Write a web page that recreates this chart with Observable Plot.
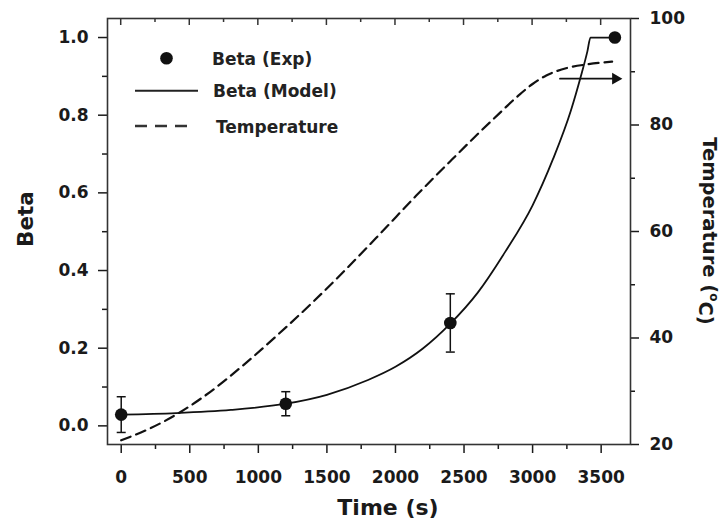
<!DOCTYPE html>
<html>
<head>
<meta charset="utf-8">
<script src="https://cdn.jsdelivr.net/npm/d3@7"></script>
<script src="https://cdn.jsdelivr.net/npm/@observablehq/plot@0.6"></script>
<style>
  html, body { margin: 0; padding: 0; background: #fff; }
  #chart svg { display: block; }
</style>
</head>
<body>
<div id="chart"></div>
<script>
// ---- data ----
const expTime = [0, 1200, 2400, 3600];
const expBeta = [0.029, 0.057, 0.265, 1.0];
const expErr  = [0.046, 0.031, 0.075, 0];

const modelTime = [0, 400, 800, 1200, 1500, 1800, 2000, 2200, 2400, 2600, 2800, 3000, 3150, 3280, 3350, 3400, 3422, 3600];
const modelBeta = [0.029, 0.033, 0.041, 0.057, 0.080, 0.118, 0.152, 0.199, 0.263, 0.343, 0.448, 0.568, 0.688, 0.813, 0.898, 0.965, 1.0, 1.0];

const tempTime  = [0, 200, 400, 650, 900, 1150, 1400, 1650, 1900, 2150, 2400, 2600, 2750, 2900, 3000, 3100, 3250, 3400, 3580];
const tempValue = [20.8, 22.9, 25.6, 29.9, 35.1, 40.8, 46.8, 53.2, 59.9, 66.7, 73.2, 78.3, 82.0, 85.6, 87.7, 89.3, 90.7, 91.4, 91.9];

const arrowTime = [3200, 3605];
const arrowTemp = [88.7, 88.7];

const xTicks = [0, 500, 1000, 1500, 2000, 2500, 3000, 3500];
const xMinor = [250, 750, 1250, 1750, 2250, 2750, 3250];
const betaTicks = [0.0, 0.2, 0.4, 0.6, 0.8, 1.0];
const betaMinor = [0.1, 0.3, 0.5, 0.7, 0.9];
const tempTicks = [20, 40, 60, 80, 100];
const tempMinor = [30, 50, 70, 90];

const legendLabels = ["Beta (Exp)", "Beta (Model)", "Temperature"];
const xTitle = "Time (s)";
const yTitle = "Beta";
const y2Title = ["Temperature (", "o", "C)"];

// ---- layout / scales ----
const W = 727, H = 527, mL = 107, mR = 97, mT = 18, mB = 83;
const yLo = -0.048, yHi = 1.049;
const tLo = 20, tHi = 100;
const tToY = T => yLo + (T - tLo) / (tHi - tLo) * (yHi - yLo);
const yToT = y => tLo + (y - yLo) / (yHi - yLo) * (tHi - tLo);

const exp = expTime.map((t, i) => ({t, b: expBeta[i], e: expErr[i]}));
const errs = exp.filter(d => d.e > 0);
const model = modelTime.map((t, i) => ({t, b: modelBeta[i]}));
const temp = tempTime.map((t, i) => ({t, T: tempValue[i]}));
const arrow = arrowTime.map((t, i) => ({t, T: arrowTemp[i]}));

const capSymbol = {
  draw(ctx, size) {
    const r = Math.sqrt(size / Math.PI);
    ctx.moveTo(-r, 0);
    ctx.lineTo(r, 0);
  }
};

const ink = "#111";
const blank = () => "";

const chart = Plot.plot({
  width: W,
  height: H,
  marginLeft: mL,
  marginRight: mR,
  marginTop: mT,
  marginBottom: mB,
  x: {domain: [-100, 3714]},
  y: {domain: [yLo, yHi]},
  style: {
    fontFamily: "'DejaVu Sans', sans-serif",
    fontWeight: "bold",
    fontSize: "17px",
    color: "#1a1a1a",
    background: "#fff"
  },
  marks: [
    // axes
    Plot.axisX(xTicks, {anchor: "bottom", tickSize: 9, tickPadding: 17, strokeWidth: 1.5, label: null, tickFormat: d3.format("d")}),
    Plot.axisX(xMinor, {anchor: "bottom", tickSize: 5, strokeWidth: 1.5, label: null, tickFormat: blank}),
    Plot.axisY(betaTicks, {anchor: "left", tickSize: 9, tickPadding: 10, strokeWidth: 1.5, label: null, tickFormat: d3.format(".1f")}),
    Plot.axisY(betaMinor, {anchor: "left", tickSize: 5, strokeWidth: 1.5, label: null, tickFormat: blank}),
    Plot.axisY(tempTicks.map(tToY), {anchor: "right", tickSize: 8, tickPadding: 11, strokeWidth: 1.5, label: null, tickFormat: y => String(Math.round(yToT(y)))}),
    Plot.axisY(tempMinor.map(tToY), {anchor: "right", tickSize: 4, strokeWidth: 1.5, label: null, tickFormat: blank}),
    Plot.frame({stroke: "#333", strokeWidth: 1.6}),

    // temperature (dashed)
    Plot.line(temp, {x: "t", y: d => tToY(d.T), curve: "monotone-x", stroke: ink, strokeWidth: 2.2, strokeDasharray: "10,6"}),

    // model
    Plot.line(model, {x: "t", y: "b", curve: "monotone-x", stroke: ink, strokeWidth: 1.8}),

    // error bars
    Plot.ruleX(errs, {x: "t", y1: d => d.b - d.e, y2: d => d.b + d.e, stroke: ink, strokeWidth: 1.5}),
    Plot.dot(errs, {x: "t", y: d => d.b - d.e, symbol: capSymbol, r: 4.5, stroke: ink, fill: "none", strokeWidth: 1.5}),
    Plot.dot(errs, {x: "t", y: d => d.b + d.e, symbol: capSymbol, r: 4.5, stroke: ink, fill: "none", strokeWidth: 1.5}),

    // experimental points
    Plot.dot(exp, {x: "t", y: "b", r: 6.3, fill: ink, stroke: "none"}),

    // arrow pointing to the temperature axis
    Plot.line(arrow, {x: "t", y: d => tToY(d.T), stroke: ink, strokeWidth: 1.8}),
    Plot.dot(arrow.slice(-1), {x: "t", y: d => tToY(d.T), symbol: "triangle", rotate: 90, r: 4.4, fill: ink, stroke: "none"})
  ]
});

document.getElementById("chart").appendChild(chart);

const svg = d3.select(chart);
const xs = chart.scale("x");

// ---- inward ticks on the top frame, positioned with Plot's x scale ----
const topTicks = svg.append("g").attr("stroke", "#333").attr("stroke-width", 1.5);
[[xTicks, 7], [xMinor, 4]].forEach(([vals, len]) => {
  vals.forEach(v => {
    const px = xs.apply(v);
    topTicks.append("line")
      .attr("x1", px).attr("x2", px)
      .attr("y1", mT).attr("y2", mT + len);
  });
});

// ---- legend (inside the plot, top-left) and axis titles ----
const lg = svg.append("g")
  .attr("font-family", "'DejaVu Sans', sans-serif")
  .attr("font-weight", "bold")
  .attr("font-size", 17)
  .attr("text-anchor", "start")
  .attr("fill", "#222");

lg.append("circle").attr("cx", 166.5).attr("cy", 58.3).attr("r", 6.3).attr("fill", ink);
lg.append("text").attr("x", 212).attr("y", 64.5).text(legendLabels[0]);

lg.append("line").attr("x1", 135).attr("x2", 198).attr("y1", 90.7).attr("y2", 90.7)
  .attr("stroke", "#222").attr("stroke-width", 2);
lg.append("text").attr("x", 213).attr("y", 97).text(legendLabels[1]);

lg.append("line").attr("x1", 135).attr("x2", 191).attr("y1", 126).attr("y2", 126)
  .attr("stroke", "#333").attr("stroke-width", 2.4).attr("stroke-dasharray", "12,8");
lg.append("text").attr("x", 216).attr("y", 132.5).text(legendLabels[2]);

const titles = svg.append("g")
  .attr("font-family", "'DejaVu Sans', sans-serif")
  .attr("font-weight", "bold")
  .attr("fill", "#1a1a1a");

titles.append("text")
  .attr("x", 388).attr("y", 515)
  .attr("text-anchor", "middle").attr("font-size", 22)
  .text(xTitle);

titles.append("text")
  .attr("transform", "translate(33,219) rotate(-90)")
  .attr("text-anchor", "middle").attr("font-size", 21.5)
  .text(yTitle);

const t2 = titles.append("text")
  .attr("transform", "translate(703,231) rotate(90)")
  .attr("text-anchor", "middle").attr("font-size", 19.5);
t2.append("tspan").text(y2Title[0]);
t2.append("tspan").attr("font-size", 12).attr("dy", "-0.6em").text(y2Title[1]);
t2.append("tspan").attr("dy", "0.6em").text(y2Title[2]);
</script>
</body>
</html>
